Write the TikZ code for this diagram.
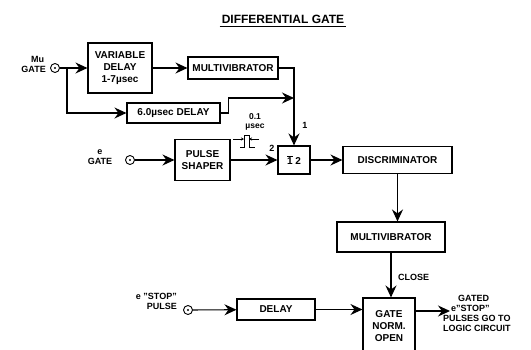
\documentclass[tikz,border=0pt]{standalone}
\usepackage{fontspec}
\setmainfont{Liberation Sans}
\usetikzlibrary{arrows.meta,positioning}

\begin{document}
\begin{tikzpicture}[
    x=1pt,y=-1pt,
    block/.style={rectangle,draw,line width=1.1pt,inner sep=1pt,align=center,font=\bfseries\fontsize{10}{12}\selectfont},
    lbl/.style={inner sep=0pt,align=center,font=\bfseries\fontsize{9}{10}\selectfont},
    jack/.style={circle,draw,line width=0.9pt,minimum size=9pt,inner sep=0pt,path picture={\fill (path picture bounding box.center) circle (1.2pt);}},
    arrow/.style={line width=1.1pt,-{Stealth[length=12pt,width=11pt,inset=4pt]}},
    tick/.style={line width=0.7pt,-{Stealth[length=3pt,width=3pt]}}
]
    \useasboundingbox (0,0) rectangle (531,349);

    % title
    \node[font=\bfseries\fontsize{12}{14}\selectfont,inner sep=0pt] (title) at (283,19) {DIFFERENTIAL GATE};
    \draw[line width=1.2pt] ([xshift=-2pt,yshift=-3pt]title.south west) -- ([xshift=2pt,yshift=-3pt]title.south east);

    % inputs
    \node[jack] (mujack) at (55,68) {};
    \node[lbl,anchor=east] (mulbl) at (46,64) {\hspace*{8pt}Mu\\GATE};
    \node[jack] (ejack) at (130,160) {};
    \node[lbl] (elbl) at (100,157) {e\\GATE};
    \node[jack] (stopjack) at (188,310) {};
    \node[lbl,anchor=east,align=right] (stoplbl) at (177,301) {e "STOP"\\PULSE};

    % blocks
    \node[block,minimum width=64pt,minimum height=50pt] (vardelay) at (120,68) {VARIABLE\\DELAY\\1-7µsec};
    \node[block,minimum width=90pt,minimum height=22pt] (multi1) at (233,68) {MULTIVIBRATOR};
    \node[block,minimum width=93pt,minimum height=20pt] (delay6) at (173.5,113) {6.0µsec DELAY};
    \node[block,minimum width=55pt,minimum height=41pt] (shaper) at (202.5,160) {PULSE\\SHAPER};
    \node[block,minimum width=32pt,minimum height=28pt] (onetwo) at (294,160) {$\overline{\mbox{1}}$ 2};
    \node[block,minimum width=109pt,minimum height=27pt] (discr) at (397.5,160) {DISCRIMINATOR};
    \node[block,minimum width=108pt,minimum height=30pt] (multi2) at (391,237) {MULTIVIBRATOR};
    \node[block,minimum width=78pt,minimum height=21pt] (delay) at (276,309.5) {DELAY};
    \node[block,minimum width=52pt,minimum height=57pt] (gate) at (389,326.5) {GATE\\NORM.\\OPEN};

    % labels
    \node[lbl] (in1) at (305,125) {1};
    \node[lbl] (in2) at (272,148) {2};
    \node[lbl,anchor=west] (close) at (398,277) {CLOSE};
    \node[lbl,anchor=west,align=left] (outlbl) at (443,313) {\hspace*{15pt}GATED\\\hspace*{8pt}e"STOP"\\PULSES GO TO\\LOGIC CIRCUIT};
    \node[lbl,font=\bfseries\fontsize{8.5}{9}\selectfont] (width) at (255,122) {0.1\\µsec};

    \coordinate (mubr) at (67,68);
    \coordinate (junc) at (294,98);
    \coordinate (outtip) at (450,311);

    \draw[arrow] (mujack) -- (vardelay.west);
    \draw[arrow] (mubr) |- (delay6.west);
    \draw[arrow] (vardelay) -- (multi1);
    \draw[arrow] (multi1.east) -| (onetwo.north);
    \draw[arrow] (delay6.east) -- ++(8,0) |- (junc);
    \draw[arrow] (ejack) -- (shaper);
    \draw[arrow] (shaper) -- (onetwo);
    \draw[arrow] (onetwo) -- (discr);
    \draw[arrow] (discr.south) -- (discr.south |- multi2.north);
    \draw[arrow] (multi2.south) -- (multi2.south |- gate.north);
    \draw[arrow] (stopjack) -- (delay);
    \draw[arrow] (delay.east) -- (delay.east -| gate.west);
    \draw[arrow] (outtip -| gate.east) -- (outtip);

    % 0.1 usec pulse sketch
    \draw[line width=0.8pt] (240,147) -| (244,135) -| (249,147) -- (255,147);
    \draw[tick] (233,139) -- (244,139);
    \draw[tick] (259,139) -- (249,139);
\end{tikzpicture}
\end{document}
